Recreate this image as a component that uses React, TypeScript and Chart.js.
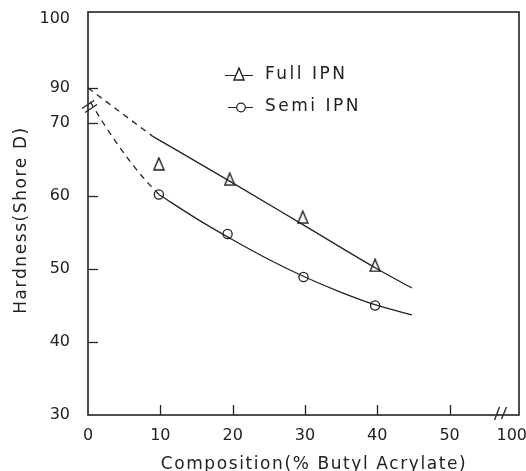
import React, { useEffect, useRef } from 'react';
import { Chart, registerables } from 'chart.js';

Chart.register(...registerables);

// ---- data (display units) ----
const xTickLabels = [0, 10, 20, 30, 40, 50, 100];
const yTickLabels = [30, 40, 50, 60, 70, 90, 100];

const fullIpnX = [9.8, 19.6, 29.7, 39.7];
const fullIpnY = [64.4, 62.3, 57.1, 50.5];
const semiIpnX = [9.8, 19.3, 29.8, 39.7];
const semiIpnY = [60.2, 54.8, 48.9, 45.0];

const fullFitX = [8.9, 20, 30, 40, 44.8];
const fullFitY = [68.2, 61.8, 55.9, 50.0, 47.4];
const fullExtrapX = [0, 8.9];
const fullExtrapY = [90, 68.2];

const semiFitX = [9.8, 15, 20, 25, 30, 35, 40, 44.8];
const semiFitY = [60.2, 56.9, 54.0, 51.3, 48.9, 46.8, 45.0, 43.7];
const semiExtrapX = [0.3, 2, 4, 6, 8, 9.8];
const semiExtrapY = [82.1, 70.7, 67.2, 64.5, 62.1, 60.2];

const seriesNames = ['Full IPN', 'Semi IPN'];
const xTitle = 'Composition(% Butyl Acrylate)';
const yTitle = 'Hardness(Shore D)';

// ---- broken-axis mapping ----
const Y_MIN = 30;
const Y_MAX = 85.2;
const X_MIN = 0;
const X_MAX = 59.6;

function toAxisY(d: number): number {
  if (d <= 70) return d;
  if (d >= 90) return 74.8 + (d - 90) * 1.04;
  return 70 + (d - 70) * 0.24;
}
function toAxisX(d: number): number {
  if (d <= 55) return d;
  return X_MAX - (100 - d) * ((X_MAX - 55) / 45);
}

const INK = '#222222';
const FONT = '"DejaVu Sans", sans-serif';

function pts(xs: number[], ys: number[]) {
  return xs.map((x, i) => ({ x: toAxisX(x), y: toAxisY(ys[i]) }));
}

function makeTriangle(): HTMLCanvasElement {
  const c = document.createElement('canvas');
  c.width = 12;
  c.height = 14;
  const g = c.getContext('2d')!;
  g.beginPath();
  g.moveTo(6, 1);
  g.lineTo(11, 13);
  g.lineTo(1, 13);
  g.closePath();
  g.fillStyle = '#fff';
  g.fill();
  g.strokeStyle = INK;
  g.lineWidth = 1.4;
  g.stroke();
  return c;
}

export default function App() {
  const ref = useRef<HTMLCanvasElement | null>(null);

  useEffect(() => {
    document.body.style.margin = '0';
    const canvas = ref.current!;
    const tri = makeTriangle();

    const decor = {
      id: 'decor',
      afterDraw(chart: any) {
        const { ctx, chartArea: a, scales } = chart;
        const xs = scales.x;
        const ys = scales.y;
        ctx.save();
        ctx.strokeStyle = INK;
        ctx.lineWidth = 1.6;
        ctx.strokeRect(a.left, a.top, a.right - a.left, a.bottom - a.top);

        // inward ticks
        ctx.lineWidth = 1.3;
        [40, 50, 60, 70, 90].forEach((v) => {
          const py = Math.round(ys.getPixelForValue(toAxisY(v))) + 0.5;
          ctx.beginPath();
          ctx.moveTo(a.left, py);
          ctx.lineTo(a.left + 10, py);
          ctx.stroke();
        });
        [10, 20, 30, 40, 50].forEach((v) => {
          const px = Math.round(xs.getPixelForValue(toAxisX(v))) + 0.5;
          ctx.beginPath();
          ctx.moveTo(px, a.bottom);
          ctx.lineTo(px, a.bottom - 10);
          ctx.stroke();
        });

        // axis breaks
        const yb = ys.getPixelForValue(toAxisY(80));
        ctx.beginPath();
        ctx.moveTo(a.left - 6, yb + 3);
        ctx.lineTo(a.left + 6, yb - 5);
        ctx.moveTo(a.left - 3, yb + 7);
        ctx.lineTo(a.left + 9, yb - 1);
        ctx.stroke();
        const xb = xs.getPixelForValue(toAxisX(75));
        ctx.beginPath();
        ctx.moveTo(xb - 6, a.bottom + 5);
        ctx.lineTo(xb - 1, a.bottom - 8);
        ctx.moveTo(xb + 1, a.bottom + 4);
        ctx.lineTo(xb + 6, a.bottom - 8);
        ctx.stroke();

        // legend
        ctx.lineWidth = 1.2;
        ctx.beginPath();
        ctx.moveTo(225, 75.5);
        ctx.lineTo(253, 75.5);
        ctx.moveTo(228, 107.5);
        ctx.lineTo(253, 107.5);
        ctx.stroke();
        ctx.drawImage(tri, 239 - 6, 74 - 7);
        ctx.beginPath();
        ctx.arc(241, 107.5, 4.3, 0, Math.PI * 2);
        ctx.fillStyle = '#fff';
        ctx.fill();
        ctx.stroke();

        ctx.fillStyle = INK;
        ctx.font = `17px ${FONT}`;
        (ctx as any).letterSpacing = '2.5px';
        ctx.textAlign = 'left';
        ctx.textBaseline = 'middle';
        ctx.fillText(seriesNames[0], 265, 75);
        ctx.fillText(seriesNames[1], 265, 107);

        // axis titles
        ctx.textAlign = 'center';
        ctx.textBaseline = 'alphabetic';
        (ctx as any).letterSpacing = '1.6px';
        ctx.fillText(xTitle, 314, 469);
        ctx.save();
        ctx.translate(26, 220);
        ctx.rotate(-Math.PI / 2);
        (ctx as any).letterSpacing = '1.6px';
        ctx.fillText(yTitle, 0, 0);
        ctx.restore();
        ctx.restore();
      },
    };

    const lineBase = {
      showLine: true,
      pointRadius: 0,
      borderColor: INK,
      borderWidth: 1.3,
      fill: false,
      cubicInterpolationMode: 'monotone' as const,
    };

    const noPad = (s: any) => {
      s.paddingLeft = 0;
      s.paddingRight = 0;
      s.paddingTop = 0;
      s.paddingBottom = 0;
    };

    const chart = new Chart(canvas, {
      type: 'scatter',
      data: {
        datasets: [
          { ...lineBase, label: 'full-extrap', data: pts(fullExtrapX, fullExtrapY), borderDash: [6, 5] },
          { ...lineBase, label: 'full-fit', data: pts(fullFitX, fullFitY) },
          { ...lineBase, label: 'semi-extrap', data: pts(semiExtrapX, semiExtrapY), borderDash: [6, 5] },
          { ...lineBase, label: 'semi-fit', data: pts(semiFitX, semiFitY) },
          {
            label: seriesNames[0],
            data: pts(fullIpnX, fullIpnY),
            pointStyle: tri,
            pointRadius: 6,
            showLine: false,
          },
          {
            label: seriesNames[1],
            data: pts(semiIpnX, semiIpnY),
            pointStyle: 'circle',
            pointRadius: 4.6,
            pointBorderWidth: 1.3,
            pointBackgroundColor: '#fff',
            pointBorderColor: INK,
            showLine: false,
          },
        ] as any,
      },
      options: {
        animation: false,
        responsive: false,
        layout: { padding: { top: 12, right: 3, left: 0, bottom: 0 } },
        plugins: { legend: { display: false }, tooltip: { enabled: false } },
        scales: {
          x: {
            type: 'linear',
            min: X_MIN,
            max: X_MAX,
            grid: { display: false },
            border: { display: false },
            afterFit: (s: any) => {
              s.height = 56;
              noPad(s);
            },
            afterBuildTicks: (s: any) => {
              s.ticks = xTickLabels.map((v) => ({
                value: v === 100 ? toAxisX(v) - 1.0 : toAxisX(v),
                label: String(v),
              }));
            },
            ticks: {
              color: INK,
              font: { family: FONT, size: 16 },
              padding: 3,
              maxRotation: 0,
              autoSkip: false,
              callback: (_v: any, i: number) => String(xTickLabels[i]),
            },
          },
          y: {
            type: 'linear',
            min: Y_MIN,
            max: Y_MAX,
            grid: { display: false },
            border: { display: false },
            afterFit: (s: any) => {
              s.width = 88;
              noPad(s);
            },
            afterBuildTicks: (s: any) => {
              s.ticks = yTickLabels.map((v) => ({
                value: v === 100 ? toAxisY(v) - 0.9 : toAxisY(v),
                label: String(v),
              }));
            },
            ticks: {
              color: INK,
              font: { family: FONT, size: 16 },
              padding: 10,
              autoSkip: false,
              callback: (_v: any, i: number) => String(yTickLabels[i]),
            },
          },
        },
      },
      plugins: [decor],
    } as any);

    return () => chart.destroy();
  }, []);

  return (
    <div style={{ width: 526, height: 471 }}>
      <canvas ref={ref} width={526} height={471} />
    </div>
  );
}
